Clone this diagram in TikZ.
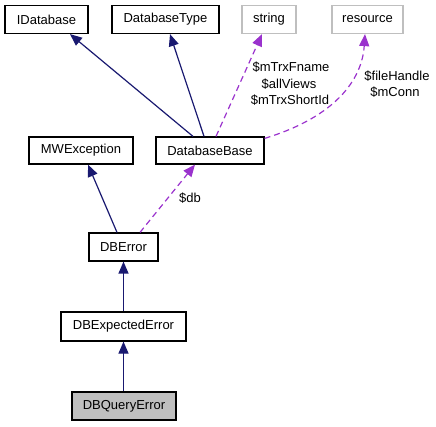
\documentclass[tikz,border=0pt]{standalone}
\usepackage{fontspec}
\setmainfont{Liberation Sans}
\usetikzlibrary{arrows.meta,calc}
\definecolor{navy}{HTML}{191970}
\definecolor{purp}{HTML}{9A32CD}
\definecolor{grayb}{HTML}{BFBFBF}
\tikzset{
  cls/.style={draw=black, line width=1.2pt, inner sep=0pt, font=\fontsize{13}{15}\selectfont, anchor=center},
  ext/.style={cls, draw=grayb},
  cur/.style={cls, fill=grayb},
  inh/.style={draw=navy, line width=1.2pt, -{Triangle[length=12pt,width=10pt]}},
  use/.style={draw=purp, line width=1.2pt, dash pattern=on 6pt off 4pt, -{Triangle[length=12pt,width=10pt,fill=purp]}},
  lbl/.style={font=\fontsize{13}{15}\selectfont, inner sep=0pt, align=center}
}
\begin{document}
\begin{tikzpicture}[x=1pt,y=-1pt]
\useasboundingbox (0,0) rectangle (436,427);
\node[cls, minimum width=83pt, minimum height=28pt] (idb) at (46.5,19.5) {IDatabase};
\node[cls, minimum width=107pt, minimum height=28pt] (dbt) at (165.5,19.5) {DatabaseType};
\node[ext, minimum width=54pt, minimum height=28pt] (str) at (269,19.5) {string};
\node[ext, minimum width=71pt, minimum height=28pt] (res) at (367.5,19.5) {resource};
\node[cls, minimum width=104pt, minimum height=27pt] (mw) at (81,150.5) {MWException};
\node[cls, minimum width=108pt, minimum height=27pt] (dbb) at (210,150.5) {DatabaseBase};
\node[cls, minimum width=69pt, minimum height=28pt] (dbe) at (123.5,247) {DBError};
\node[cls, minimum width=125pt, minimum height=29pt] (dbx) at (123.5,326.5) {DBExpectedError};
\node[cur, minimum width=104pt, minimum height=28pt] (dbq) at (124,406) {DBQueryError};

\draw[inh] ([xshift=-17pt]dbb.north) -- ([xshift=23.5pt]idb.south);
\draw[inh] ([xshift=-6pt]dbb.north) -- ([xshift=4.5pt]dbt.south);
\draw[use] ([xshift=6pt]dbb.north) -- ([xshift=-7pt]str.south);
\draw[use] ([yshift=-2pt]dbb.north east) .. controls (335,117) and (362,80) .. ([xshift=-2.5pt]res.south);
\draw[inh] ([xshift=-6.5pt]dbe.north) -- ([xshift=7pt]mw.south);
\draw[use] ([xshift=16.5pt]dbe.north) -- ([xshift=-15pt]dbb.south);
\draw[inh] (dbx.north) -- (dbe.south);
\draw[inh] (dbq.north -| dbx.north) -- (dbx.south);

\node[lbl] (l1) at (291,67) {\$mTrxFname};
\node[lbl] (l2) at (289,84) {\$allViews};
\node[lbl] (l3) at (290,100) {\$mTrxShortId};
\node[lbl] (l4) at (397,76) {\$fileHandle};
\node[lbl] (l5) at (395,92) {\$mConn};
\node[lbl] (l6) at (190,198) {\$db};
\end{tikzpicture}
\end{document}
